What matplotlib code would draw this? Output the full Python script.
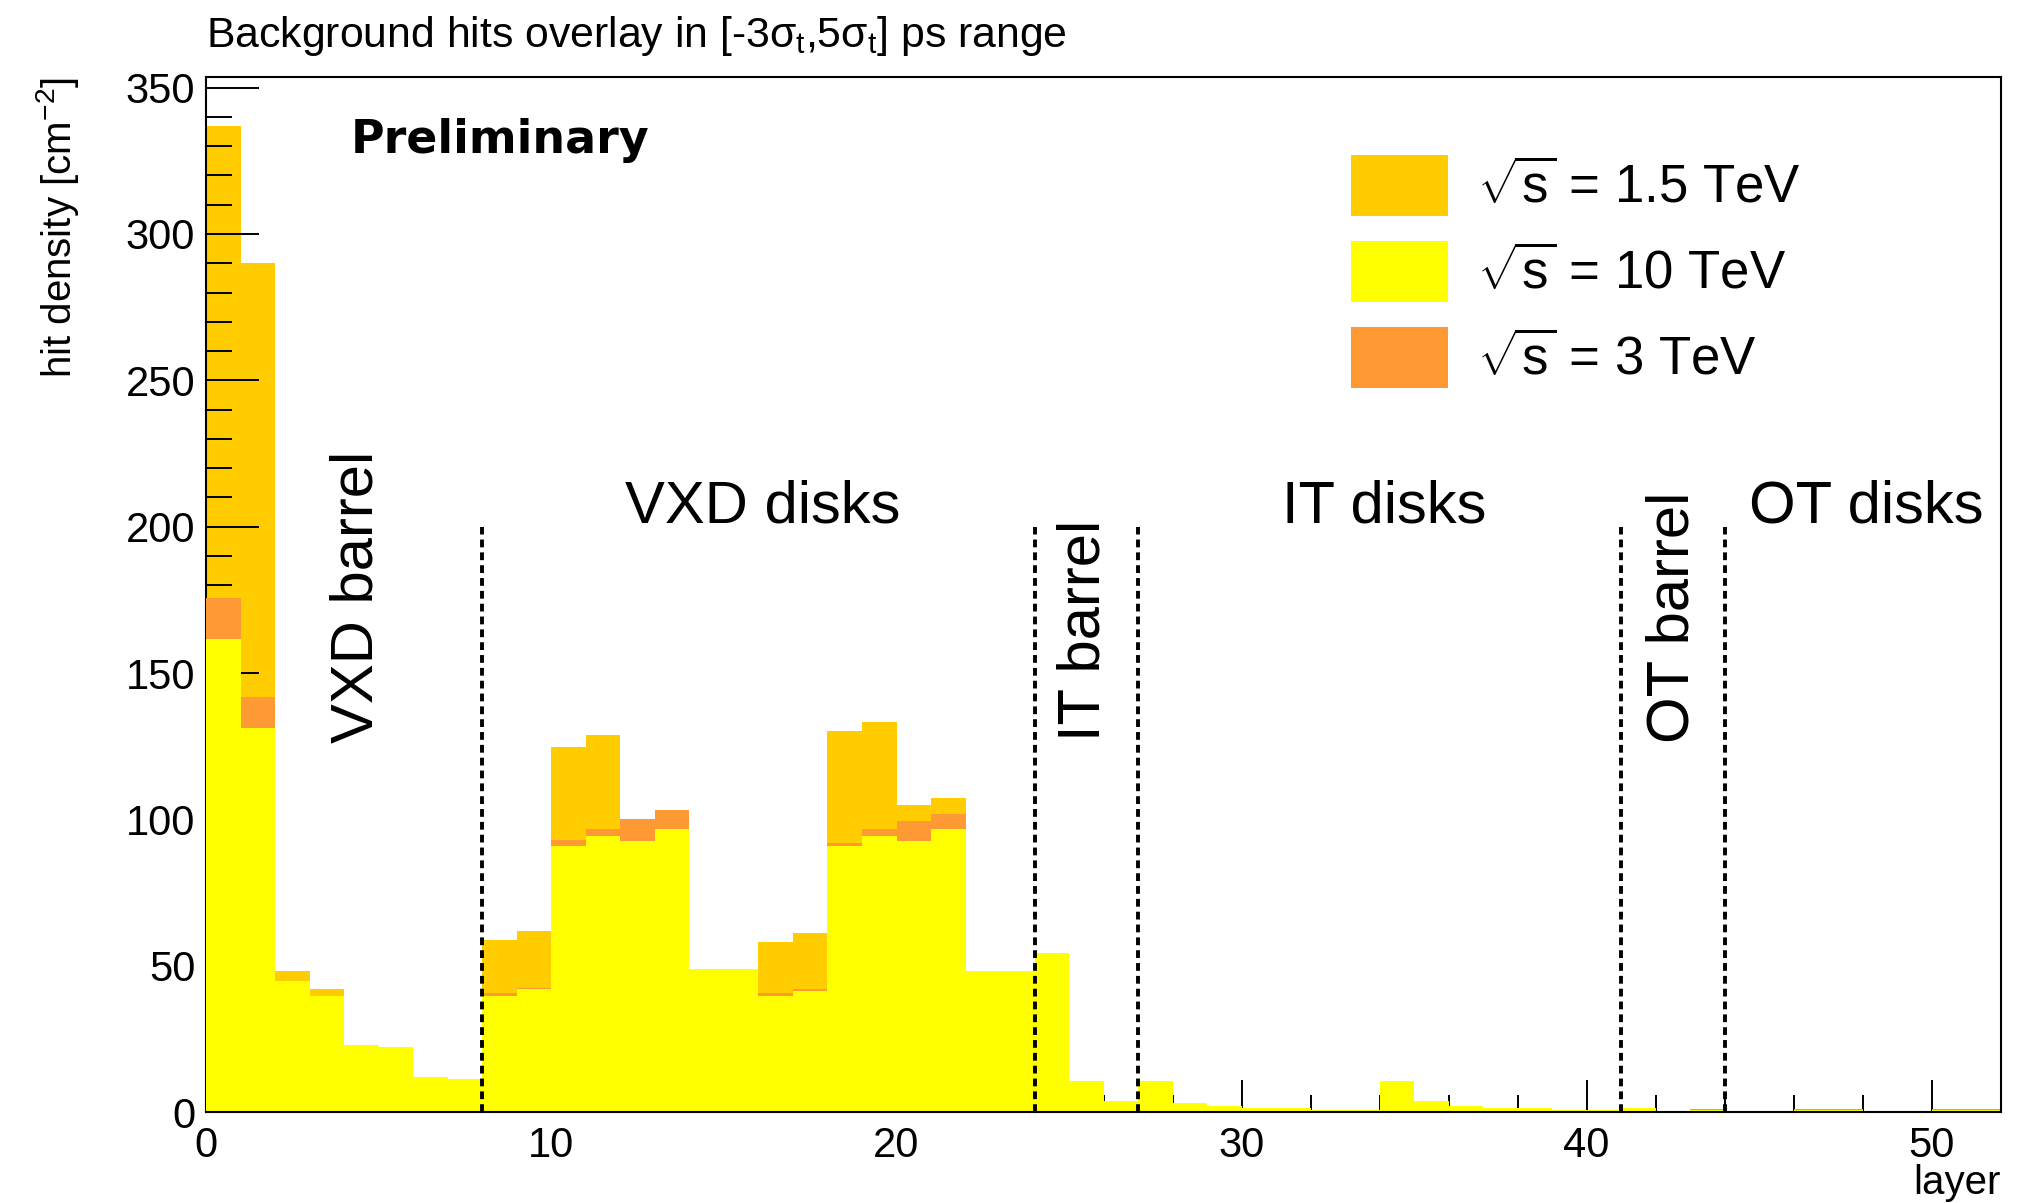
import numpy as np
import matplotlib
matplotlib.use("Agg")
import matplotlib.pyplot as plt
from matplotlib.patches import Patch
from matplotlib.ticker import MultipleLocator

plt.rcParams["font.family"] = ["Liberation Sans", "DejaVu Sans"]
plt.rcParams["mathtext.fontset"] = "custom"
plt.rcParams["mathtext.rm"] = "Liberation Sans"
plt.rcParams["mathtext.it"] = "Liberation Sans"
plt.rcParams["mathtext.bf"] = "Liberation Sans:bold"

# layer bins 0..51, hit density [cm^-2]
layers = np.arange(0, 53)
hits_1p5tev = [336.8, 290.0, 48.2, 42.0, 23.0, 22.0, 12.0, 11.2, 59.0, 62.0,
               124.8, 128.7, 98.0, 101.0, 48.5, 48.5, 58.2, 61.2, 130.1, 133.2,
               104.9, 107.2, 48.0, 48.0, 54.0, 10.5, 3.8, 10.5, 3.0, 2.2,
               1.4, 1.4, 0.7, 0.7, 10.5, 3.8, 2.2, 1.4, 1.4, 0.7,
               0.7, 1.2, 0.3, 0.9, 0.1, 0.1, 0.9, 0.9, 0.1, 0.1,
               0.9, 0.9]
hits_3tev = [175.7, 141.8, 44.0, 39.0, 22.5, 21.5, 11.8, 11.0, 40.6, 42.5,
             92.9, 96.8, 100.3, 103.4, 48.0, 48.0, 40.6, 42.2, 92.0, 96.8,
             99.5, 101.8, 47.5, 47.5, 53.0, 10.3, 3.7, 10.3, 3.0, 2.2,
             1.4, 1.4, 0.7, 0.7, 10.3, 3.7, 2.2, 1.4, 1.4, 0.7,
             0.7, 1.2, 0.3, 1.0, 0.1, 0.1, 1.0, 1.0, 0.1, 0.1,
             1.0, 1.0]
hits_10tev = [161.6, 131.2, 44.7, 39.8, 23.0, 22.2, 12.2, 11.4, 39.8, 42.1,
              91.1, 94.3, 92.7, 96.6, 48.9, 48.9, 39.8, 41.5, 91.1, 94.3,
              92.7, 96.6, 48.3, 48.3, 54.4, 10.7, 3.9, 10.7, 3.1, 2.3,
              1.5, 1.5, 0.8, 0.8, 10.7, 3.9, 2.3, 1.5, 1.5, 0.8,
              0.8, 1.3, 0.4, 0.8, 0.2, 0.2, 0.8, 0.8, 0.2, 0.2,
              0.8, 0.8]

boundaries = [8, 24, 27, 41, 44]
region_labels = ["VXD barrel", "VXD disks", "IT barrel", "IT disks", "OT barrel", "OT disks"]
region_x = [4.38, 16.12, 25.44, 34.12, 42.51, 48.1]
region_y = [176.0, 201.4, 164.6, 201.3, 169.1, 201.3]
region_rot = [90, 0, 90, 0, 90, 0]

legend_labels = [r"$\sqrt{s}$ = 1.5 TeV", r"$\sqrt{s}$ = 10 TeV", r"$\sqrt{s}$ = 3 TeV"]

GOLD = "#ffcc00"
YELLOW = "#ffff00"
ORANGE = "#ff9933"

fig = plt.figure(figsize=(20.23, 12.03), dpi=100)
ax = fig.add_axes([0.102, 0.0754, 0.887, 0.8603])

ax.set_axisbelow(True)
ax.stairs(hits_1p5tev, layers, fill=True, color=GOLD, zorder=0.3)
ax.stairs(hits_3tev, layers, fill=True, color=ORANGE, zorder=1.0)
ax.stairs(hits_10tev, layers, fill=True, color=YELLOW, zorder=1.1)

for b in boundaries:
    ax.plot([b, b], [0, 200], color="black", lw=2.8, ls=(0, (2.0, 1.3)), zorder=2)

for lab, x, y, rot in zip(region_labels, region_x, region_y, region_rot):
    if rot:
        ax.text(x, y, lab, rotation=90, ha="center", va="center", fontsize=43, zorder=3)
    else:
        ax.text(x, y, lab, ha="center", va="baseline", fontsize=43, zorder=3)

ax.text(4.19, 332, "Preliminary", fontsize=33, fontweight="bold",
        family="DejaVu Sans", ha="left", va="center")

ax.set_xlim(0, 52)
ax.set_ylim(0, 353.5)

ax.xaxis.set_major_locator(MultipleLocator(10))
ax.xaxis.set_minor_locator(MultipleLocator(2))
ax.yaxis.set_major_locator(MultipleLocator(50))
ax.yaxis.set_minor_locator(MultipleLocator(10))
ax.tick_params(axis="y", which="major", direction="in", length=38, width=1.4, labelsize=30, pad=8)
ax.tick_params(axis="y", which="minor", direction="in", length=19, width=1.4)
ax.tick_params(axis="x", which="major", direction="in", length=23, width=1.4, labelsize=30, pad=10)
ax.tick_params(axis="x", which="minor", direction="in", length=12, width=1.4)

for side, sp in ax.spines.items():
    sp.set_linewidth(1.5)
ax.spines["left"].set_zorder(0.5)
ax.spines["bottom"].set_zorder(2.5)

ax.set_ylabel(r"hit density [cm$^{-2}$]", fontsize=29, loc="top", va="center")
ax.yaxis.set_label_coords(-0.0827, 1.0)
ax.set_xlabel("layer", fontsize=29, loc="right", va="center")
ax.xaxis.set_label_coords(1.0, -0.068)

ax.text(0.0, 1.04, r"Background hits overlay in [-3$\sigma_{t}$,5$\sigma_{t}$] ps range",
        transform=ax.transAxes, fontsize=30.8, ha="left", va="center")

handles = [Patch(facecolor=GOLD, edgecolor="none"),
           Patch(facecolor=YELLOW, edgecolor="none"),
           Patch(facecolor=ORANGE, edgecolor="none")]
ax.legend(handles, legend_labels, loc="upper left", bbox_to_anchor=(0.638, 0.925),
          frameon=False, fontsize=38, handlelength=1.84, handleheight=1.41,
          labelspacing=0.47, handletextpad=0.55, borderpad=0, borderaxespad=0)

fig.savefig("out.png", dpi=100)
